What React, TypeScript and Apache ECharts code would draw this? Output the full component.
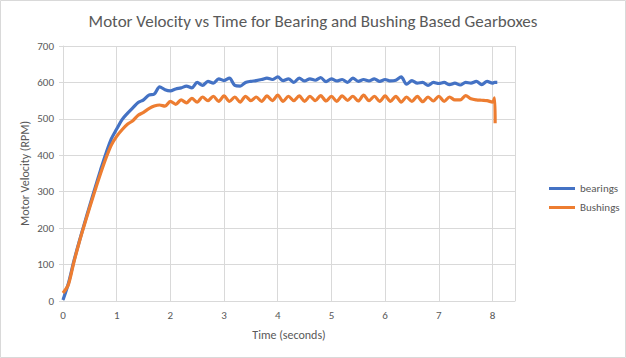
import React, { useEffect, useRef } from "react";
import * as echarts from "echarts";

const TITLE = "Motor Velocity vs Time for Bearing and Bushing Based Gearboxes";
const X_NAME = "Time (seconds)";
const Y_NAME = "Motor Velocity (RPM)";
const SERIES_NAMES = ["bearings", "Bushings"];

// time samples (seconds)
const times: number[] = [
  0, 0.1, 0.2, 0.3, 0.4, 0.5, 0.6, 0.7, 0.8, 0.9,
  1.0, 1.1, 1.2, 1.3, 1.4, 1.5, 1.6, 1.7, 1.8, 1.9,
  2.0, 2.1, 2.2, 2.3, 2.4, 2.5, 2.6, 2.7, 2.8, 2.9,
  3.0, 3.1, 3.2, 3.3, 3.4, 3.5, 3.6, 3.7, 3.8, 3.9,
  4.0, 4.1, 4.2, 4.3, 4.4, 4.5, 4.6, 4.7, 4.8, 4.9,
  5.0, 5.1, 5.2, 5.3, 5.4, 5.5, 5.6, 5.7, 5.8, 5.9,
  6.0, 6.1, 6.2, 6.3, 6.4, 6.5, 6.6, 6.7, 6.8, 6.9,
  7.0, 7.1, 7.2, 7.3, 7.4, 7.5, 7.6, 7.7, 7.8, 7.9,
  8.0, 8.04, 8.05, 8.09,
];

const bearings: (number | null)[] = [
  3, 48, 108, 162, 213, 263, 312, 360, 405, 445,
  472, 498, 515, 530, 545, 552, 565, 568, 588, 580,
  577, 582, 585, 590, 585, 600, 592, 603, 598, 610,
  605, 612, 592, 590, 600, 603, 605, 608, 612, 608,
  615, 605, 610, 600, 612, 604, 610, 606, 613, 602,
  610, 604, 608, 600, 612, 603, 608, 604, 610, 603,
  608, 604, 606, 615, 595, 605, 598, 600, 592, 600,
  597, 600, 594, 598, 593, 600, 598, 603, 594, 603,
  598, 600, 600, 600,
];

const bushings: (number | null)[] = [
  22, 45, 105, 160, 210, 258, 305, 350, 392, 428,
  452, 470, 485, 495, 510, 518, 528, 535, 538, 535,
  548, 540, 552, 544, 556, 546, 560, 550, 562, 548,
  563, 548, 560, 546, 562, 550, 560, 548, 563, 550,
  565, 548, 562, 550, 563, 548, 562, 550, 564, 549,
  562, 548, 563, 551, 562, 549, 565, 550, 562, 548,
  563, 548, 562, 546, 560, 548, 562, 547, 560, 549,
  562, 548, 560, 552, 552, 564, 555, 552, 551, 550,
  546, 558, 488, null,
];

const X_TICKS = [0, 1, 2, 3, 4, 5, 6, 7, 8];

export default function App() {
  const ref = useRef<HTMLDivElement>(null);
  useEffect(() => {
    if (!ref.current) return;
    const chart = echarts.init(ref.current, null, { renderer: "svg" });
    const font = "Carlito, 'Liberation Sans', sans-serif";
    const toPairs = (vals: (number | null)[]) =>
      times.map((t, i) => [t, vals[i]]).filter((p) => p[1] !== null);
    chart.setOption({
      animation: false,
      backgroundColor: "#ffffff",
      textStyle: { fontFamily: font },
      title: {
        text: TITLE,
        left: "center",
        top: 8,
        textStyle: { fontFamily: font, fontSize: 17, fontWeight: "normal", color: "#595959" },
      },
      graphic: [
        {
          type: "rect",
          shape: { x: 0.5, y: 0.5, width: 625, height: 357 },
          style: { fill: "none", stroke: "#D9D9D9", lineWidth: 1 },
          silent: true,
        },
      ],
      legend: {
        orient: "vertical",
        left: 544,
        top: 178,
        icon: "rect",
        itemWidth: 26,
        itemHeight: 3,
        itemGap: 8,
        textStyle: { fontFamily: font, fontSize: 11, color: "#595959" },
        data: SERIES_NAMES,
      },
      grid: { left: 63, right: 111, top: 46, bottom: 57, containLabel: false },
      xAxis: {
        type: "value",
        min: 0,
        max: 8.42,
        interval: 1,
        name: X_NAME,
        nameLocation: "middle",
        nameGap: 28,
        nameMoveOverlap: false,
        nameTextStyle: { fontFamily: font, fontSize: 12, color: "#595959" },
        axisLine: { show: true, lineStyle: { color: "#D9D9D9" } },
        axisTick: { show: false },
        axisLabel: {
          color: "#595959",
          fontSize: 11,
          fontFamily: font,
          margin: 9,
          formatter: (v: number) => (X_TICKS.indexOf(v) >= 0 ? String(v) : ""),
        },
        splitLine: { show: true, lineStyle: { color: "#D9D9D9" } },
      },
      yAxis: {
        type: "value",
        min: 0,
        max: 700,
        interval: 100,
        name: Y_NAME,
        nameLocation: "middle",
        nameGap: 32,
        nameMoveOverlap: false,
        nameRotate: 90,
        nameTextStyle: { fontFamily: font, fontSize: 12, color: "#595959" },
        axisLine: { show: true, lineStyle: { color: "#D9D9D9" } },
        axisTick: { show: true, length: 4, lineStyle: { color: "#D9D9D9" } },
        axisLabel: { color: "#595959", fontSize: 11, fontFamily: font, margin: 9 },
        splitLine: { show: true, lineStyle: { color: "#D9D9D9" } },
      },
      series: [
        {
          name: SERIES_NAMES[0],
          type: "line",
          data: toPairs(bearings),
          symbol: "none",
          smooth: 0.3,
          lineStyle: { color: "#4472C4", width: 3.2 },
          itemStyle: { color: "#4472C4" },
        },
        {
          name: SERIES_NAMES[1],
          type: "line",
          data: toPairs(bushings),
          symbol: "none",
          smooth: 0.3,
          lineStyle: { color: "#ED7D31", width: 3.2 },
          itemStyle: { color: "#ED7D31" },
        },
      ],
    });
    return () => chart.dispose();
  }, []);
  return (
    <div
      ref={ref}
      style={{ position: "fixed", left: 0, top: 0, width: 626, height: 358 }}
    />
  );
}
